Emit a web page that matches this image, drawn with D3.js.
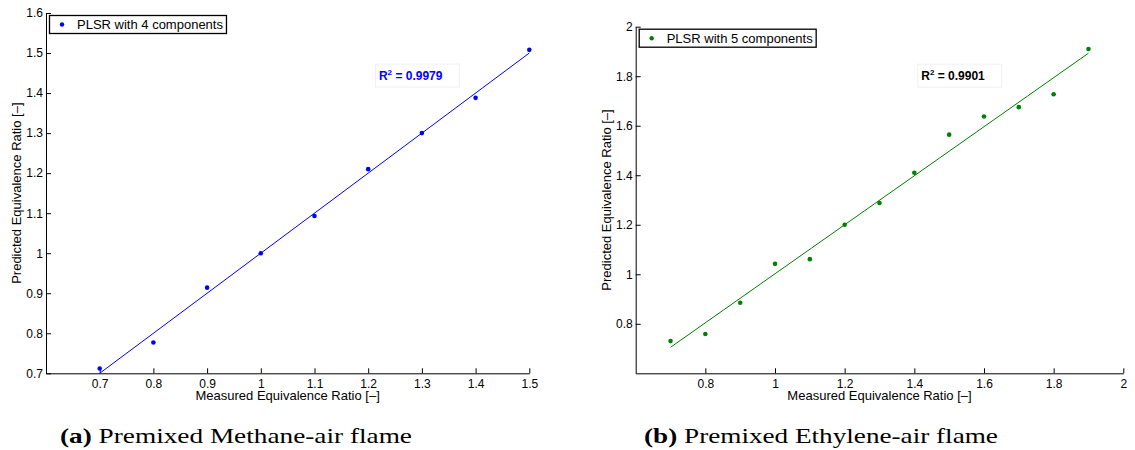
<!DOCTYPE html>
<html>
<head>
<meta charset="utf-8">
<script src="https://cdn.jsdelivr.net/npm/d3@7"></script>
<style>
  body { margin: 0; background: #fff; }
  svg { display: block; }
  .axis text { font-family: "Liberation Sans", Arial, sans-serif; font-size: 12px; fill: #000; }
  .axis path, .axis line { stroke: #000; stroke-width: 1; }
  .label { font-family: "Liberation Sans", Arial, sans-serif; font-size: 13px; fill: #000; }
  .caption { font-family: "Liberation Serif", "Times New Roman", serif; font-size: 21.5px; fill: #000; }
</style>
</head>
<body>
<div></div>
<script>
var width = 1135;
var height = 450;

// panel (a) methane
var methaneMeasured = [0.7, 0.8, 0.9, 1.0, 1.1, 1.2, 1.3, 1.4, 1.5];
var methanePredicted = [0.712, 0.777, 0.914, 1.0, 1.093, 1.21, 1.30, 1.388, 1.508];
var methaneFitX = [0.7, 1.5];
var methaneFitY = [0.700, 1.500];
var methaneXTicks = [0.7, 0.8, 0.9, 1, 1.1, 1.2, 1.3, 1.4, 1.5];
var methaneYTicks = [0.7, 0.8, 0.9, 1, 1.1, 1.2, 1.3, 1.4, 1.5, 1.6];

// panel (b) ethylene
var ethyleneMeasured = [0.7, 0.8, 0.9, 1.0, 1.1, 1.2, 1.3, 1.4, 1.5, 1.6, 1.7, 1.8, 1.9];
var ethylenePredicted = [0.730, 0.759, 0.885, 1.042, 1.061, 1.200, 1.288, 1.410, 1.564, 1.637, 1.675, 1.727, 1.910];
var ethyleneFitX = [0.7, 1.9];
var ethyleneFitY = [0.705, 1.893];
var ethyleneXTicks = [0.8, 1, 1.2, 1.4, 1.6, 1.8, 2];
var ethyleneYTicks = [0.8, 1, 1.2, 1.4, 1.6, 1.8, 2];

var svg = d3.select("div")
	.append("svg")
	.attr("width", width)
	.attr("height", height);

svg.append("rect").attr("width", width).attr("height", height).attr("fill", "#fff");

function drawPanel(p) {
	var x = d3.scaleLinear().domain(p.xDomain).range([p.left, p.right]);
	var y = d3.scaleLinear().domain(p.yDomain).range([p.bottom, p.top]);
	var g = svg.append("g");

	g.append("g")
		.attr("class", "axis")
		.attr("transform", "translate(0," + p.bottom + ")")
		.call(d3.axisBottom(x).tickValues(p.xTicks).tickFormat(d => String(d))
			.tickSizeInner(-5).tickSizeOuter(0).tickPadding(6));

	g.append("g")
		.attr("class", "axis")
		.attr("transform", "translate(" + p.left + ",0)")
		.call(d3.axisLeft(y).tickValues(p.yTicks).tickFormat(d => String(d))
			.tickSizeInner(-5).tickSizeOuter(0).tickPadding(3));

	// fit line
	var fit = p.fitX.map((v, i) => [v, p.fitY[i]]);
	g.append("path")
		.datum(fit)
		.attr("fill", "none")
		.attr("stroke", p.color)
		.attr("stroke-width", 1)
		.attr("d", d3.line().x(d => x(d[0])).y(d => y(d[1])));

	// points
	g.selectAll("circle.pt")
		.data(p.measured)
		.enter()
		.append("circle")
		.attr("class", "pt")
		.attr("cx", d => x(d))
		.attr("cy", (d, i) => y(p.predicted[i]))
		.attr("r", 2.3)
		.attr("fill", p.color);

	// axis labels
	g.append("text")
		.attr("class", "label")
		.attr("x", (p.left + p.right) / 2)
		.attr("y", p.bottom + 26.2)
		.attr("text-anchor", "middle")
		.text("Measured Equivalence Ratio [–]");

	g.append("text")
		.attr("class", "label")
		.attr("transform", "translate(" + p.yLabelX + "," + (p.top + p.bottom) / 2 + ") rotate(-90)")
		.attr("text-anchor", "middle")
		.text("Predicted Equivalence Ratio [–]");

	// legend
	var lg = g.append("g").attr("transform", "translate(" + (p.left + 3) + "," + (p.top + 2) + ")");
	var lt = lg.append("text")
		.attr("class", "label")
		.attr("x", 28)
		.attr("y", 14)
		.text(p.legend);
	var lw = lt.node().getComputedTextLength();
	lg.insert("rect", () => lt.node())
		.attr("x", 0.5).attr("y", 0.5)
		.attr("width", lw + 31).attr("height", 18)
		.attr("fill", "#fff").attr("stroke", "#000").attr("stroke-width", 1.3);
	lg.append("circle").attr("cx", 13).attr("cy", 9.5).attr("r", 2.2).attr("fill", p.color);

	// R^2 annotation
	var rt = g.append("text")
		.attr("x", x(p.r2At[0]))
		.attr("y", y(p.r2At[1]))
		.attr("font-family", "Liberation Sans, Arial, sans-serif")
		.attr("font-size", 12)
		.attr("font-weight", "bold")
		.attr("fill", p.r2Color);
	rt.append("tspan").text("R");
	rt.append("tspan").attr("font-size", 8).attr("dy", -5).text("2");
	rt.append("tspan").attr("dy", 5).text(" = " + p.r2);
	var bb = rt.node().getBBox();
	g.insert("rect", () => rt.node())
		.attr("x", bb.x - 3.5).attr("y", bb.y - 4)
		.attr("width", bb.width + 20).attr("height", bb.height + 8)
		.attr("fill", "none").attr("stroke", "#f0f0f0");

	// caption, stretched to the width of the original serif caption
	var capG = svg.append("g");
	var cap = capG.append("text")
		.attr("class", "caption")
		.attr("x", 0)
		.attr("y", 0);
	cap.append("tspan").attr("font-weight", "bold").text(p.capTag);
	cap.append("tspan").text(" " + p.caption);
	var cw = cap.node().getComputedTextLength();
	capG.attr("transform", "translate(" + p.capX + ",443) scale(" + (p.capW / cw) + ",1)");
}

drawPanel({
	xDomain: [0.6, 1.5], yDomain: [0.7, 1.6],
	left: 46, right: 529.3, top: 13, bottom: 373.3,
	xTicks: methaneXTicks, yTicks: methaneYTicks,
	measured: methaneMeasured, predicted: methanePredicted,
	fitX: methaneFitX, fitY: methaneFitY,
	color: "#0000ff", r2Color: "#0000ff", r2: "0.9979", r2At: [1.22, 1.4325],
	legend: "PLSR with 4 components", yLabelX: 20.5,
	capX: 60, capW: 352, capTag: "(a)", caption: "Premixed Methane-air flame"
});

drawPanel({
	xDomain: [0.6, 2], yDomain: [0.6, 2],
	left: 635.7, right: 1123.3, top: 26.7, bottom: 373.3,
	xTicks: ethyleneXTicks, yTicks: ethyleneYTicks,
	measured: ethyleneMeasured, predicted: ethylenePredicted,
	fitX: ethyleneFitX, fitY: ethyleneFitY,
	color: "#008000", r2Color: "#000", r2: "0.9901", r2At: [1.42, 1.784],
	legend: "PLSR with 5 components", yLabelX: 610.5,
	capX: 644, capW: 354, capTag: "(b)", caption: "Premixed Ethylene-air flame"
});
</script>
</body>
</html>
